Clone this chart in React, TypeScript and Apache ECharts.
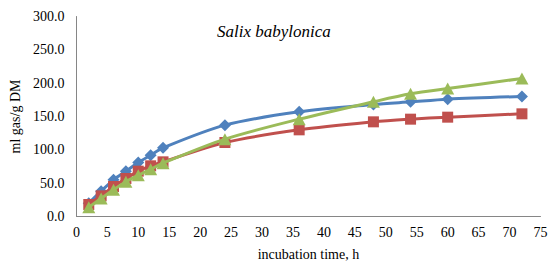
import React, { useEffect, useRef } from "react";
import * as echarts from "echarts";

const hours = [2, 4, 6, 8, 10, 12, 14, 24, 36, 48, 54, 60, 72];
const seriesA = [20, 38, 55, 68, 81, 92, 103, 137, 157, 168, 172, 176, 180];
const seriesB = [18, 31, 45, 57, 68, 76, 82, 111, 130, 142, 146, 149, 154];
const seriesC = [14, 27, 40, 52, 62, 71, 80, 116, 146, 172, 184, 192, 207];
const colors = ["#4F81BD", "#C0504D", "#9BBB59"];
const symbols = ["diamond", "rect", "triangle"];
const titleText = "Salix babylonica";
const xName = "incubation time, h";
const yName = "ml gas/g DM";

export default function App() {
  const ref = useRef<HTMLDivElement>(null);
  useEffect(() => {
    if (!ref.current) return;
    const chart = echarts.init(ref.current, null, { renderer: "svg" });
    const font = "Liberation Serif";
    const all = [seriesA, seriesB, seriesC];
    chart.setOption({
      animation: false,
      backgroundColor: "#ffffff",
      textStyle: { fontFamily: font },
      title: {
        text: titleText,
        left: 212,
        top: 18,
        textStyle: { fontFamily: font, fontStyle: "italic", fontWeight: "normal", fontSize: 17, color: "#000" },
      },
      grid: { left: 72.5, right: 11.5, top: 16.5, bottom: 50.5, containLabel: false },
      xAxis: {
        type: "value",
        min: 0,
        max: 75,
        interval: 5,
        name: xName,
        nameLocation: "middle",
        nameGap: 31,
        nameTextStyle: { fontFamily: font, fontSize: 14, color: "#000" },
        axisLine: { show: true, lineStyle: { color: "#868686", width: 1 } },
        axisTick: { show: false },
        splitLine: { show: false },
        axisLabel: { fontFamily: font, fontSize: 14, color: "#000", margin: 9 },
      },
      yAxis: {
        type: "value",
        min: 0,
        max: 300,
        interval: 50,
        name: yName,
        nameLocation: "middle",
        nameGap: 54,
        nameTextStyle: { fontFamily: font, fontSize: 14, color: "#000" },
        axisLine: { show: true, lineStyle: { color: "#868686", width: 1 } },
        axisTick: { show: false },
        splitLine: { show: false },
        axisLabel: { fontFamily: font, fontSize: 14, color: "#000", margin: 12, formatter: (v: number) => v.toFixed(1) },
      },
      series: all.map((vals, i) => ({
        type: "line",
        data: hours.map((h, j) => [h, vals[j]]),
        smooth: 0.3,
        symbol: symbols[i],
        symbolSize: i === 0 ? [12, 12] : i === 1 ? [11, 11] : [13, 12],
        lineStyle: { color: colors[i], width: 3 },
        itemStyle: { color: colors[i] },
        z: 2 + i,
      })),
    });
    return () => chart.dispose();
  }, []);
  return <div ref={ref} style={{ position: "fixed", left: 0, top: 0, width: 552, height: 267 }} />;
}
